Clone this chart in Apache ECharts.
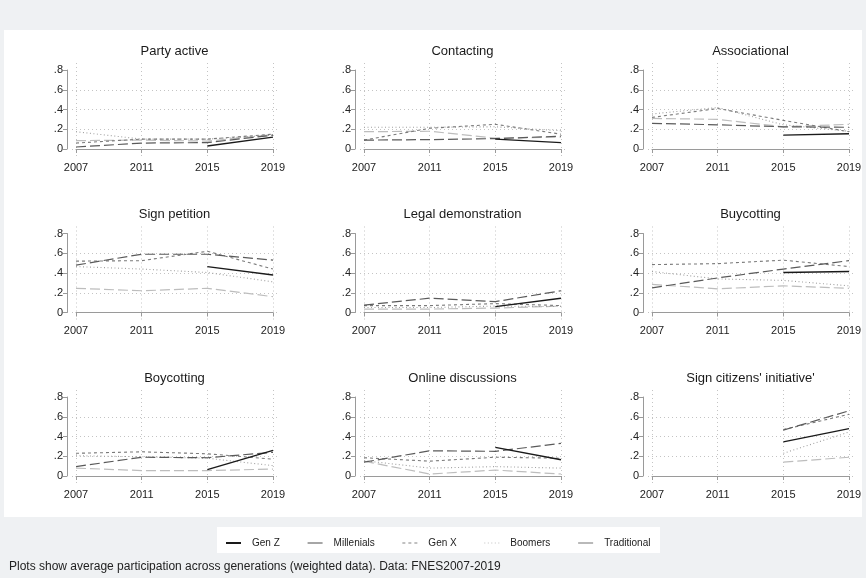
<!DOCTYPE html>
<html><head><meta charset="utf-8">
<script src="https://cdn.jsdelivr.net/npm/echarts@6/dist/echarts.min.js"></script>
<style>html,body{margin:0;padding:0;background:#eff1f3}#c{width:866px;height:578px}</style>
</head><body><div id="c"></div>
<script>
const years = [2007, 2011, 2015, 2019];
const yTicks = [0, 0.2, 0.4, 0.6, 0.8];
const gridTicks = [0, 0.2, 0.4, 0.6];
const panelTitles = ['Party active', 'Contacting', 'Associational', 'Sign petition', 'Legal demonstration', 'Buycotting', 'Boycotting', 'Online discussions', "Sign citizens' initiative'"];
const seriesNames = ['Gen Z', 'Millenials', 'Gen X', 'Boomers', 'Traditional'];
// values per panel, per year (2007, 2011, 2015, 2019)
const genZ = [
  [null, null, 0.03, 0.12],
  [null, null, 0.10, 0.065],
  [null, null, 0.14, 0.155],
  [null, null, 0.465, 0.38],
  [null, null, 0.06, 0.145],
  [null, null, 0.405, 0.415],
  [null, null, 0.065, 0.26],
  [null, null, 0.29, 0.165],
  [null, null, 0.345, 0.48]
];
const millenials = [
  [0.02, 0.06, 0.065, 0.14],
  [0.09, 0.095, 0.105, 0.13],
  [0.26, 0.245, 0.225, 0.22],
  [0.48, 0.59, 0.59, 0.53],
  [0.075, 0.145, 0.11, 0.22],
  [0.25, 0.35, 0.44, 0.525],
  [0.095, 0.19, 0.185, 0.24],
  [0.14, 0.255, 0.25, 0.33],
  [null, null, 0.465, 0.66]
];
const genX = [
  [0.06, 0.10, 0.10, 0.15],
  [0.09, 0.21, 0.25, 0.15],
  [0.32, 0.41, 0.29, 0.175],
  [0.52, 0.525, 0.62, 0.44],
  [0.07, 0.07, 0.09, 0.07],
  [0.485, 0.495, 0.53, 0.465],
  [0.23, 0.245, 0.225, 0.17],
  [0.185, 0.15, 0.19, 0.18],
  [null, null, 0.47, 0.625]
];
const boomers = [
  [0.175, 0.10, 0.10, 0.14],
  [0.22, 0.22, 0.225, 0.185],
  [0.355, 0.42, 0.245, 0.18],
  [0.465, 0.44, 0.405, 0.31],
  [0.05, 0.05, 0.065, 0.06],
  [0.415, 0.34, 0.325, 0.27],
  [0.205, 0.195, 0.18, 0.105],
  [0.155, 0.08, 0.095, 0.08],
  [null, null, 0.23, 0.445]
];
const traditional = [
  [0.085, 0.09, 0.08, 0.145],
  [0.175, 0.18, 0.11, 0.12],
  [0.31, 0.30, 0.225, 0.25],
  [0.245, 0.22, 0.245, 0.16],
  [0.035, 0.035, 0.045, 0.065],
  [0.285, 0.24, 0.27, 0.245],
  [0.08, 0.055, 0.055, 0.07],
  [0.15, 0.02, 0.06, 0.02],
  [null, null, 0.14, 0.19]
];
const noteText = 'Plots show average participation across generations (weighted data). Data: FNES2007-2019';

const allData = [genZ, millenials, genX, boomers, traditional];
const styles = [
  {color: '#1a1a1a', width: 1.4, type: 'solid'},
  {color: '#5a5a5a', width: 1.2, type: [10, 4]},
  {color: '#7a7a7a', width: 1.1, type: [3, 3]},
  {color: '#a0a0a0', width: 1.1, type: [1, 2.5]},
  {color: '#bdbdbd', width: 1.2, type: [10, 4]}
];
const legendStyles = [
  {color: '#1a1a1a', width: 2, type: 'solid'},
  {color: '#909090', width: 1.6, type: 'solid'},
  {color: '#a0a0a0', width: 1.3, type: [3, 3]},
  {color: '#c0c0c0', width: 1.2, type: [1, 2.5]},
  {color: '#a8a8a8', width: 1.6, type: 'solid'}
];
const FONT = '"Liberation Sans", Arial, sans-serif';

const grids = [], xAxes = [], yAxes = [], series = [], graphics = [];
graphics.push({type: 'rect', z: -10, shape: {x: 4, y: 30, width: 858, height: 487}, style: {fill: '#ffffff'}});
graphics.push({type: 'rect', z: -10, shape: {x: 217, y: 527, width: 443, height: 26}, style: {fill: '#ffffff'}});
graphics.push({type: 'text', x: 9, y: 567, style: {text: noteText, fill: '#222', font: '12px ' + FONT, align: 'left', verticalAlign: 'middle', textAlign: 'left', textVerticalAlign: 'middle'}});

const colX = [76, 364, 652];
const rowY = [70, 233.5, 397];
const W = 197, H = 79;
const pxPerYear = W / 12, pxPerUnit = H / 0.8;

panelTitles.forEach((t, i) => {
  const c = i % 3, r = Math.floor(i / 3);
  const left = colX[c], top = rowY[r];
  // frame grid (grid lines)
  grids.push({left: left - 4, top: top - 7, width: W + 11, height: H + 15});
  xAxes.push({gridIndex: 2 * i, type: 'value', min: 2007 - 4 / pxPerYear, max: 2019 + 7 / pxPerYear,
    axisLine: {show: false}, axisTick: {show: false, customValues: years}, axisLabel: {show: false, customValues: years},
    splitLine: {show: true, lineStyle: {color: '#c4c4c4', width: 1, type: [1, 3]}}});
  yAxes.push({gridIndex: 2 * i, type: 'value', min: -8 / pxPerUnit, max: 0.8 + 7 / pxPerUnit,
    axisLine: {show: false}, axisTick: {show: false, customValues: gridTicks}, axisLabel: {show: false, customValues: gridTicks},
    splitLine: {show: true, lineStyle: {color: '#c4c4c4', width: 1, type: [1, 3]}}});
  // data grid
  grids.push({left: left, top: top, width: W, height: H});
  xAxes.push({gridIndex: 2 * i + 1, type: 'value', min: 2007, max: 2019, offset: 8,
    axisLine: {show: true, lineStyle: {color: '#9a9a9a', width: 1}},
    axisTick: {show: true, length: 4, customValues: years, lineStyle: {color: '#9a9a9a'}},
    axisLabel: {show: true, customValues: years, margin: 5, color: '#222', fontSize: 11, fontFamily: FONT,
      formatter: v => String(Math.round(v))},
    splitLine: {show: false}});
  yAxes.push({gridIndex: 2 * i + 1, type: 'value', min: 0, max: 0.8, offset: 9,
    axisLine: {show: true, lineStyle: {color: '#9a9a9a', width: 1}},
    axisTick: {show: true, length: 4, customValues: yTicks, lineStyle: {color: '#9a9a9a'}},
    axisLabel: {show: true, customValues: yTicks, margin: 4, color: '#222', fontSize: 11, fontFamily: FONT,
      formatter: v => v === 0 ? '0' : String(Math.round(v * 10) / 10).replace(/^0/, '')},
    splitLine: {show: false}});
  graphics.push({type: 'text', x: left + W / 2, y: top - 19, style: {text: t, fill: '#1a1a1a', font: '13px ' + FONT,
    align: 'center', verticalAlign: 'middle', textAlign: 'center', textVerticalAlign: 'middle'}});
  allData.forEach((arr, s) => {
    series.push({
      name: seriesNames[s], type: 'line', xAxisIndex: 2 * i + 1, yAxisIndex: 2 * i + 1,
      data: years.map((y, k) => [y, arr[i][k]]), connectNulls: false,
      symbol: 'none', showSymbol: false, silent: true, animation: false, z: 10 - s,
      lineStyle: {color: styles[s].color, width: styles[s].width, type: styles[s].type},
      itemStyle: {color: styles[s].color}
    });
  });
});

const chart = echarts.init(document.getElementById('c'), null, {renderer: 'canvas'});
chart.setOption({
  backgroundColor: '#eff1f3',
  animation: false,
  grid: grids, xAxis: xAxes, yAxis: yAxes, series: series, graphic: graphics,
  legend: {
    left: 220, top: 533, itemWidth: 15, itemHeight: 10, itemGap: 27,
    itemStyle: {opacity: 0},
    textStyle: {fontSize: 10, color: '#222', fontFamily: FONT, padding: [0, 0, 0, 6]},
    data: seriesNames.map((n, s) => ({name: n, itemStyle: {opacity: 0}, lineStyle: legendStyles[s]})),
    selectedMode: false
  }
});
</script></body></html>
